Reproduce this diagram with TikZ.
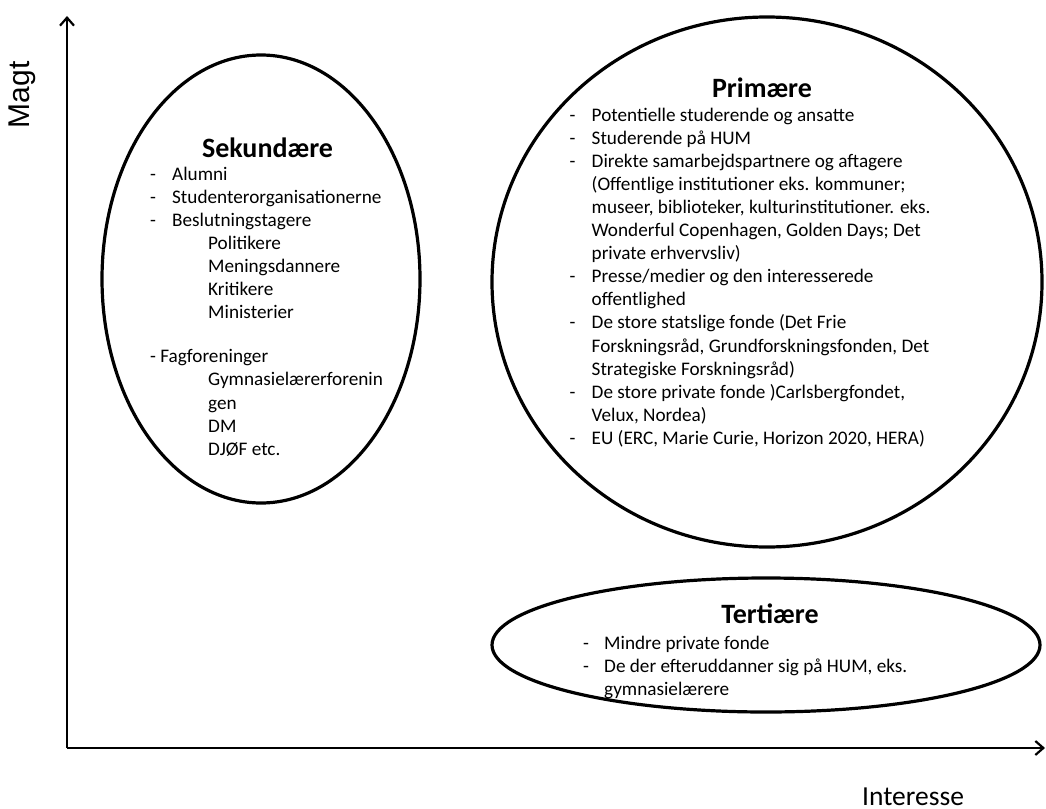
\documentclass[tikz,border=0pt]{standalone}
\usepackage{fontspec}
\setmainfont{Carlito}
\newfontfamily\axfont{Liberation Sans}
\usetikzlibrary{arrows.meta}
\newcommand{\dl}[2]{\makebox[#1][l]{-}#2}
\newcommand{\il}[2]{\hspace*{#1}#2}
\newcommand{\lfont}{\fontsize{19.2}{23.1}\selectfont}
\begin{document}
\begin{tikzpicture}[x=1pt,y=-1pt,
  axis/.style={line width=2.6pt,-{Straight Barb[length=8pt,width=14pt,line width=2.2pt]}},
  oval/.style={line width=3.2pt},
  title/.style={font=\fontsize{28}{32}\selectfont\bfseries,anchor=base,inner sep=0pt},
  list/.style={font=\lfont,anchor=base west,inner sep=0pt},
]
\useasboundingbox (0,0) rectangle (1046,808);
% axes
\coordinate (o) at (67,748);
\coordinate (ytop) at (67,16);
\coordinate (xend) at (1045,748);
\draw[axis] (o) -- (ytop);
\draw[axis] (o) -- (xend);
\node[font=\axfont\fontsize{30}{34}\selectfont,rotate=90,inner sep=0pt] (magt) at (22.5,95) {Magt};
\node[font=\fontsize{27.5}{30}\selectfont,anchor=base west,inner sep=0pt] (int) at (862,805) {Interesse};
% ellipses
\draw[oval] (261,279) ellipse [x radius=159, y radius=224];
\draw[oval] (767,282) ellipse [x radius=275, y radius=265];
\draw[oval] (766,645) ellipse [x radius=274, y radius=67];
% Sekundaere
\node[title] (sekt) at (267.5,157) {Sekundære};
\node[list] (sekl) at (150,180) {\lfont\begin{tabular}[t]{@{}l@{}}
\dl{22pt}{Alumni}\\
\dl{22pt}{Studenterorganisationerne}\\
\dl{22pt}{Beslutningstagere}\\
\il{58pt}{Politikere}\\
\il{58pt}{Meningsdannere}\\
\il{58pt}{Kritikere}\\
\il{58pt}{Ministerier}\\
\\[-2pt]
- Fagforeninger\\
\il{58pt}{Gymnasielærerforenin}\\
\il{58pt}{gen}\\
\il{58pt}{DM}\\
\il{58pt}{DJØF etc.}
\end{tabular}};
% Primaere
\node[title] (primt) at (762,97.3) {Primære};
\node[list] (priml) at (569.5,121) {\lfont\begin{tabular}[t]{@{}l@{}}
\dl{22pt}{Potentielle studerende og ansatte}\\
\dl{22pt}{Studerende på HUM}\\
\dl{22pt}{Direkte samarbejdspartnere og aftagere}\\
\il{22pt}{(Offentlige institutioner eks. kommuner;}\\
\il{22pt}{museer, biblioteker, kulturinstitutioner. eks.}\\
\il{22pt}{Wonderful Copenhagen, Golden Days; Det}\\
\il{22pt}{private erhvervsliv)}\\
\dl{22pt}{Presse/medier og den interesserede}\\
\il{22pt}{offentlighed}\\
\dl{22pt}{De store statslige fonde (Det Frie}\\
\il{22pt}{Forskningsråd, Grundforskningsfonden, Det}\\
\il{22pt}{Strategiske Forskningsråd)}\\
\dl{22pt}{De store private fonde )Carlsbergfondet,}\\
\il{22pt}{Velux, Nordea)}\\
\dl{22pt}{EU (ERC, Marie Curie, Horizon 2020, HERA)}
\end{tabular}};
% Tertiaere
\node[title] (tert) at (770,623.3) {Tertiære};
\node[list] (terl) at (583,649.3) {\lfont\begin{tabular}[t]{@{}l@{}}
\dl{21pt}{Mindre private fonde}\\
\dl{21pt}{De der efteruddanner sig på HUM, eks.}\\
\il{21pt}{gymnasielærere}
\end{tabular}};
\end{tikzpicture}
\end{document}
